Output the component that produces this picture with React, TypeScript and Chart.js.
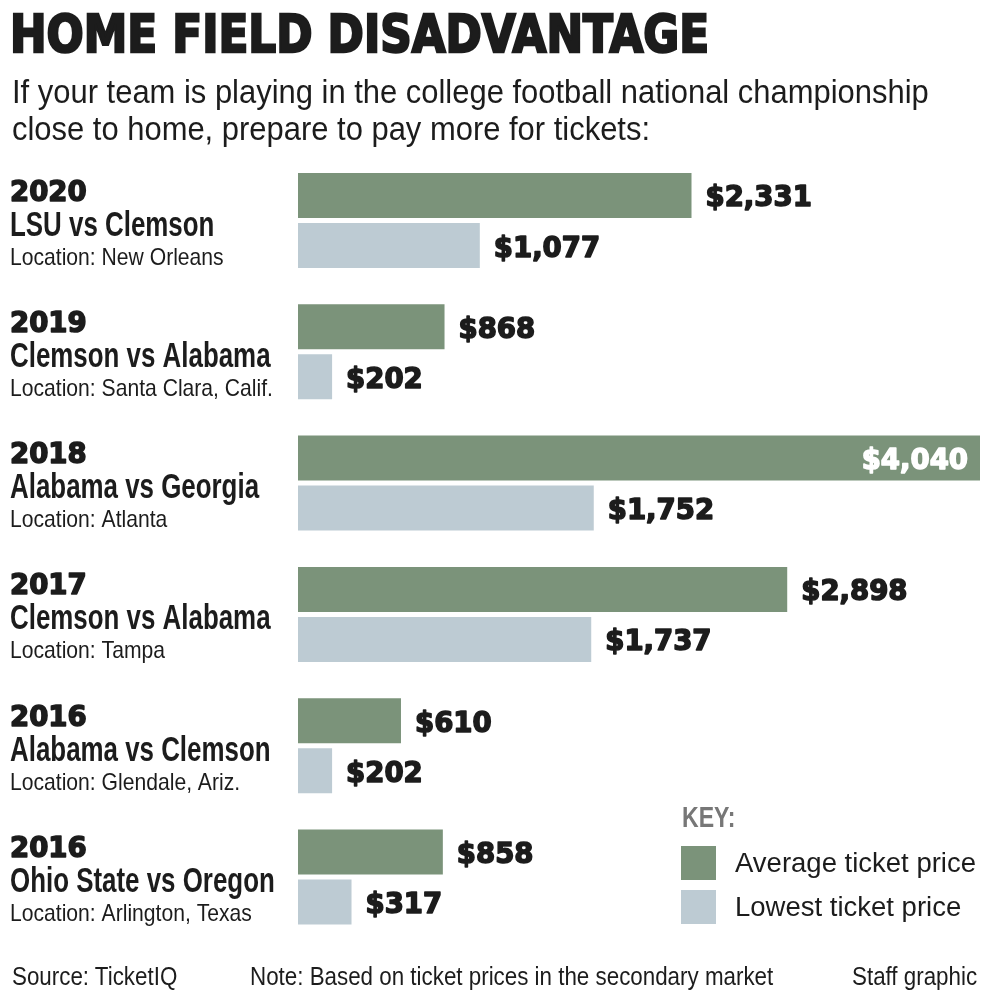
import React, { useEffect, useRef } from "react";
import { Chart, registerables } from "chart.js";

Chart.register(...registerables);

const years = ["2020", "2019", "2018", "2017", "2016", "2016"];
const matchups = [
  "LSU vs Clemson",
  "Clemson vs Alabama",
  "Alabama vs Georgia",
  "Clemson vs Alabama",
  "Alabama vs Clemson",
  "Ohio State vs Oregon",
];
const locations = [
  "Location: New Orleans",
  "Location: Santa Clara, Calif.",
  "Location: Atlanta",
  "Location: Tampa",
  "Location: Glendale, Ariz.",
  "Location: Arlington, Texas",
];
const averagePrice = [2331, 868, 4040, 2898, 610, 858];
const lowestPrice = [1077, 202, 1752, 1737, 202, 317];
const seriesNames = ["Average ticket price", "Lowest ticket price"];
const keyTitle = "KEY:";
const xMax = 4040;

const GREEN = "#7b937a";
const BLUE = "#bdcbd3";
const INK = "#1c1c1c";

const fmt = (v: number) => "$" + v.toLocaleString("en-US");

function drawText(
  ctx: CanvasRenderingContext2D,
  text: string,
  x: number,
  y: number,
  font: string,
  color: string,
  sx = 1,
  align: CanvasTextAlign = "left",
  stroke = 0
) {
  ctx.save();
  ctx.font = font;
  ctx.fillStyle = color;
  ctx.textBaseline = "alphabetic";
  ctx.textAlign = align;
  ctx.translate(x, y);
  ctx.scale(sx, 1);
  ctx.fillText(text, 0, 0);
  if (stroke > 0) {
    ctx.strokeStyle = color;
    ctx.lineWidth = stroke;
    ctx.lineJoin = "round";
    ctx.strokeText(text, 0, 0);
  }
  ctx.restore();
}

const labelPlugin = {
  id: "labelPlugin",
  afterDatasetsDraw(chart: any) {
    const ctx: CanvasRenderingContext2D = chart.ctx;
    const yScale = chart.scales.y;
    // category labels
    years.forEach((yr, i) => {
      const c = yScale.getPixelForValue(i);
      drawText(ctx, yr, 10, c - 20, "bold 29px 'DejaVu Sans'", INK, 0.95, "left", 1.6);
      drawText(ctx, matchups[i], 10, c + 15, "bold 35px 'Liberation Sans'", INK, 0.74);
      drawText(ctx, locations[i], 10, c + 44, "24px 'Liberation Sans'", INK, 0.88);
    });
    // value labels
    const allVals = chart.data.datasets.flatMap((d: any) => d.data as number[]);
    const maxVal = Math.max(...allVals);
    chart.data.datasets.forEach((ds: any, di: number) => {
      const meta = chart.getDatasetMeta(di);
      meta.data.forEach((bar: any, i: number) => {
        const v = ds.data[i] as number;
        if (v === maxVal) {
          drawText(ctx, fmt(v), bar.x - 12, bar.y + 11, "bold 29px 'DejaVu Sans'", "#ffffff", 0.95, "right", 1.6);
        } else {
          drawText(ctx, fmt(v), bar.x + 14, bar.y + 11, "bold 29px 'DejaVu Sans'", INK, 0.95, "left", 1.6);
        }
      });
    });
    // legend / key
    drawText(ctx, keyTitle, 682, 827, "bold 30px 'Liberation Sans'", "#777777", 0.77);
    chart.data.datasets.forEach((ds: any, di: number) => {
      const top = 846 + di * 44;
      ctx.save();
      ctx.fillStyle = ds.backgroundColor;
      ctx.fillRect(681, top, 35, 34);
      ctx.restore();
      drawText(ctx, ds.label, 735, top + 26, "27.5px 'Liberation Sans'", INK, 1.0);
    });
  },
};

export default function App() {
  const canvasRef = useRef<HTMLCanvasElement | null>(null);

  useEffect(() => {
    if (!canvasRef.current) return;
    const chart = new Chart(canvasRef.current, {
      type: "bar",
      data: {
        labels: years.map((y, i) => `${y} ${matchups[i]}`),
        datasets: [
          {
            label: seriesNames[0],
            data: averagePrice,
            backgroundColor: GREEN,
            borderWidth: 0,
            barPercentage: 0.9,
            categoryPercentage: 0.762,
          },
          {
            label: seriesNames[1],
            data: lowestPrice,
            backgroundColor: BLUE,
            borderWidth: 0,
            barPercentage: 0.9,
            categoryPercentage: 0.762,
          },
        ],
      },
      options: {
        indexAxis: "y",
        responsive: false,
        animation: false,
        devicePixelRatio: 1,
        layout: { padding: { left: 298, right: 10, top: 154.85, bottom: 60.35 } },
        plugins: {
          legend: { display: false },
          tooltip: { enabled: false },
          title: { display: false },
        },
        scales: {
          x: { display: false, min: 0, max: xMax, grid: { display: false } },
          y: { display: false, grid: { display: false } },
        },
      },
      plugins: [labelPlugin],
    });
    return () => chart.destroy();
  }, []);

  const abs = (extra: React.CSSProperties): React.CSSProperties => ({
    position: "absolute",
    whiteSpace: "nowrap",
    color: INK,
    transformOrigin: "left top",
    ...extra,
  });

  const footFont: React.CSSProperties = {
    top: 963,
    font: "26px 'Liberation Sans'",
    lineHeight: "26px",
    transform: "scaleX(0.86)",
  };

  return (
    <div
      style={{
        position: "absolute",
        left: 0,
        top: 0,
        width: 990,
        height: 1003,
        background: "#ffffff",
        overflow: "hidden",
      }}
    >
      <canvas
        ref={canvasRef}
        width={990}
        height={1003}
        style={{ position: "absolute", left: 0, top: 0, width: 990, height: 1003 }}
      />
      <div
        style={abs({
          left: 10,
          top: 8.9,
          font: "bold 51px 'DejaVu Sans'",
          lineHeight: "51px",
          transform: "scaleX(0.857)",
          WebkitTextStroke: "2.5px " + INK,
        })}
      >
        HOME FIELD DISADVANTAGE
      </div>
      <div
        style={abs({
          left: 12,
          top: 74.2,
          font: "34px 'Liberation Sans'",
          lineHeight: "34px",
          transform: "scaleX(0.91)",
        })}
      >
        If your team is playing in the college football national championship
      </div>
      <div
        style={abs({
          left: 12,
          top: 111.2,
          font: "34px 'Liberation Sans'",
          lineHeight: "34px",
          transform: "scaleX(0.91)",
        })}
      >
        close to home, prepare to pay more for tickets:
      </div>
      <div style={abs({ left: 12, ...footFont })}>Source: TicketIQ</div>
      <div style={abs({ left: 250, ...footFont })}>
        Note: Based on ticket prices in the secondary market
      </div>
      <div style={abs({ left: 852, ...footFont })}>Staff graphic</div>
    </div>
  );
}
